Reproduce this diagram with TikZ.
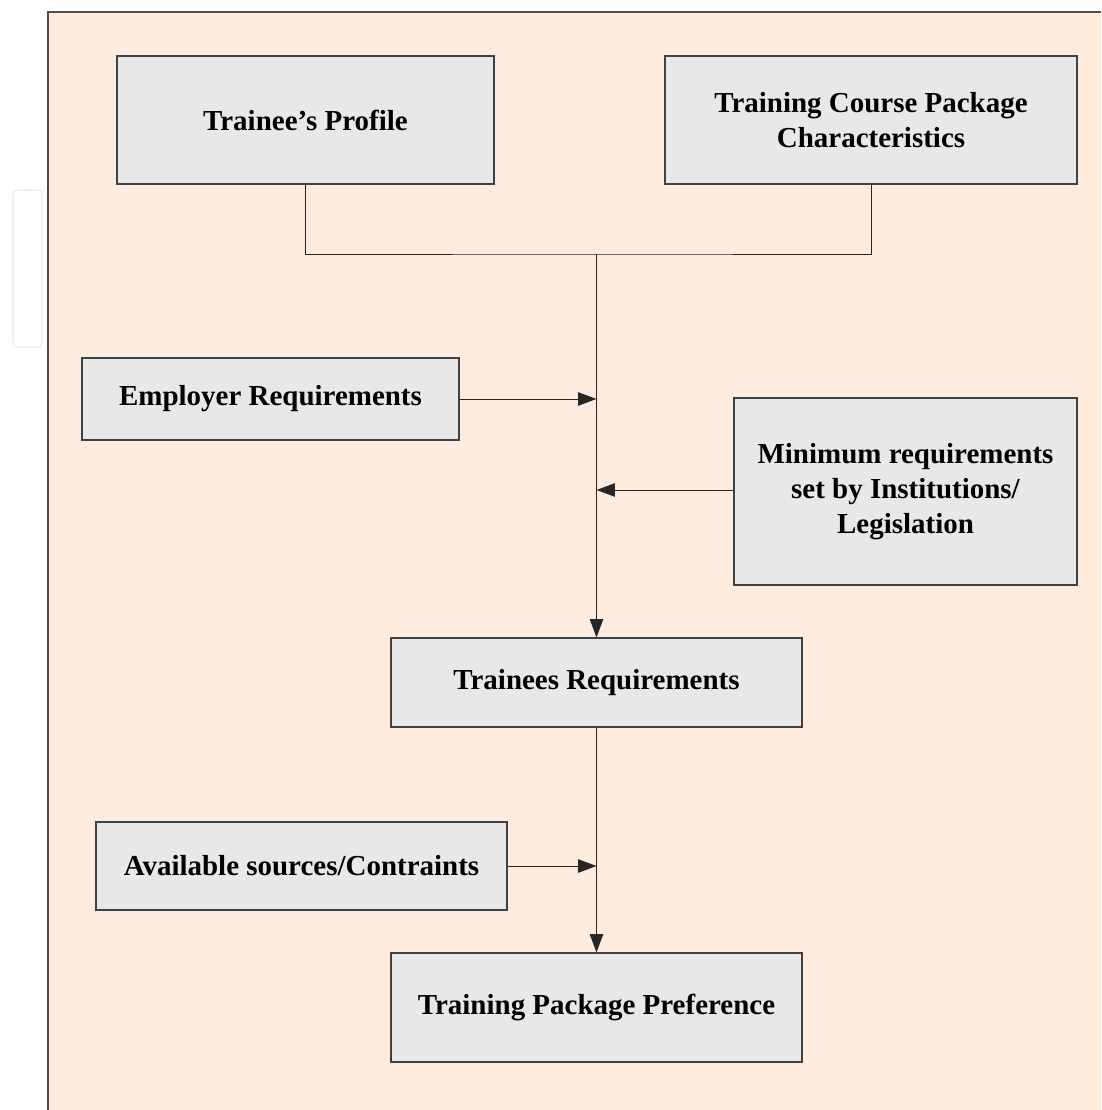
\documentclass[tikz,border=0pt]{standalone}
\usepackage{fontspec}
\setmainfont{Liberation Serif}
\usetikzlibrary{arrows.meta}
\definecolor{peach}{HTML}{FDECDE}
\definecolor{boxgray}{HTML}{E8E8E8}
\tikzset{
  factor/.style={draw=black!75,fill=boxgray,line width=0.8pt,align=center,
    font=\fontsize{20.6}{25}\selectfont\bfseries,inner sep=0pt},
  feed/.style={draw=black!85,line width=0.7pt,-{Triangle[length=13pt,width=9.5pt]}}
}
\begin{document}
\begin{tikzpicture}[x=0.025cm,y=-0.025cm]
\useasboundingbox (0,0) rectangle (1101,1110);
\fill[peach] (48,12) rectangle (1101,1110);
\draw[black!70,line width=0.8pt] (48,1110) -- (48,12) -- (1101,12);
\draw[black!6,line width=1.2pt,rounded corners=3pt] (13,190) rectangle (42,347);
% top row
\node[factor,minimum width=377*0.025cm,minimum height=128*0.025cm] (profile) at (305.5,120) {Trainee’s Profile};
\node[factor,minimum width=412*0.025cm,minimum height=128*0.025cm] (course) at (871,120) {Training Course Package\\Characteristics};
% side inputs
\node[factor,minimum width=377*0.025cm,minimum height=82*0.025cm] (employer) at (270.5,399) {Employer Requirements};
\node[factor,minimum width=343*0.025cm,minimum height=187*0.025cm] (minimum) at (905.5,491.5) {Minimum requirements\\set by Institutions/\\Legislation};
\node[factor,minimum width=411*0.025cm,minimum height=89*0.025cm] (trainees) at (596.5,682.5) {Trainees Requirements};
\node[factor,minimum width=411*0.025cm,minimum height=88*0.025cm] (sources) at (301.5,866) {Available sources/Contraints};
\node[factor,minimum width=411*0.025cm,minimum height=109*0.025cm] (preference) at (596.5,1007.5) {Training Package Preference};
\coordinate (join) at (596.5,254);
% connectors
\draw[black!85,line width=0.7pt] (profile.south) |- (join) -| (course.south);
\draw[feed] (join) -- (trainees.north);
\draw[feed] (employer.east) -- (employer.east -| join);
\draw[feed] (minimum.west |- 0,490) -- (join |- 0,490);
\draw[feed] (trainees.south) -- (preference.north);
\draw[feed] (sources.east) -- (sources.east -| join);
\end{tikzpicture}
\end{document}
